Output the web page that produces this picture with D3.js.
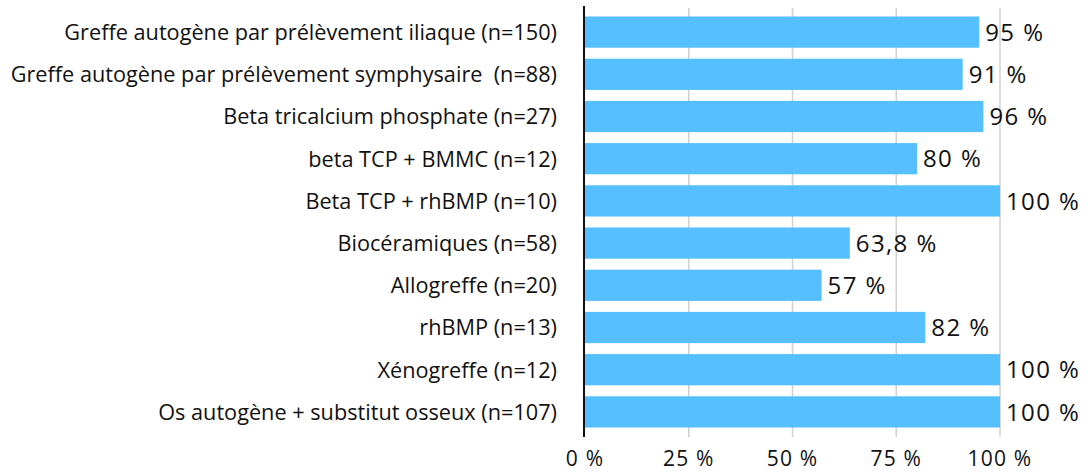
<!DOCTYPE html>
<html>
<head>
<meta charset="utf-8">
<script src="https://cdn.jsdelivr.net/npm/d3@7"></script>
<style>
  html, body { margin: 0; padding: 0; background: #fff; }
  svg text { font-family: "Open Sans", "Liberation Sans", Arial, sans-serif; fill: #111; white-space: pre; }
</style>
</head>
<body>
<svg id="chart" width="1088" height="472"></svg>
<script>
const categories = [
  'Greffe autogène par prélèvement iliaque (n=150)',
  'Greffe autogène par prélèvement symphysaire  (n=88)',
  'Beta tricalcium phosphate (n=27)',
  'beta TCP + BMMC (n=12)',
  'Beta TCP + rhBMP (n=10)',
  'Biocéramiques (n=58)',
  'Allogreffe (n=20)',
  'rhBMP (n=13)',
  'Xénogreffe (n=12)',
  'Os autogène + substitut osseux (n=107)'
];
const values = [95, 91, 96, 80, 100, 63.8, 57, 82, 100, 100];
const valueLabels = ['95 %', '91 %', '96 %', '80 %', '100 %', '63,8 %', '57 %', '82 %', '100 %', '100 %'];
const ticks = [0, 25, 50, 75, 100];

const svg = d3.select('#chart');
const x = d3.scaleLinear().domain([0, 100]).range([585, 1000]);
const y = d3.scaleBand().domain(categories).range([11, 433]).paddingInner(0.26).paddingOuter(0.13);

// gridlines
svg.append('g')
  .selectAll('line')
  .data(ticks.slice(1))
  .enter().append('line')
    .attr('x1', d => x(d)).attr('x2', d => x(d))
    .attr('y1', 8).attr('y2', 437)
    .attr('stroke', '#d0d0d0')
    .attr('stroke-width', 1.5);

// bars
svg.append('g')
  .selectAll('rect')
  .data(values)
  .enter().append('rect')
    .attr('x', x(0))
    .attr('y', (d, i) => y(categories[i]))
    .attr('width', d => x(d) - x(0))
    .attr('height', y.bandwidth())
    .attr('fill', '#56bfff');

// value labels
svg.append('g')
  .selectAll('text')
  .data(values)
  .enter().append('text')
    .attr('x', d => x(d) + 6)
    .attr('y', (d, i) => y(categories[i]) + y.bandwidth() / 2)
    .attr('dy', '0.36em')
    .style('font-size', '24px')
    .style('letter-spacing', '1.4px')
    .text((d, i) => valueLabels[i]);

// category labels
svg.append('g')
  .selectAll('text')
  .data(categories)
  .enter().append('text')
    .attr('x', 557)
    .attr('y', d => y(d) + y.bandwidth() / 2)
    .attr('dy', '0.36em')
    .attr('text-anchor', 'end')
    .style('font-size', '21.7px')
    .text(d => d);

// y axis line
svg.append('line')
  .attr('x1', 584).attr('x2', 584)
  .attr('y1', 6).attr('y2', 437)
  .attr('stroke', '#111')
  .attr('stroke-width', 2);

// x tick labels
svg.append('g')
  .selectAll('text')
  .data(ticks)
  .enter().append('text')
    .attr('x', d => x(d))
    .attr('y', 466)
    .attr('text-anchor', 'middle')
    .style('font-size', '21px')
    .style('letter-spacing', '1.2px')
    .text(d => d + ' %');
</script>
</body>
</html>
